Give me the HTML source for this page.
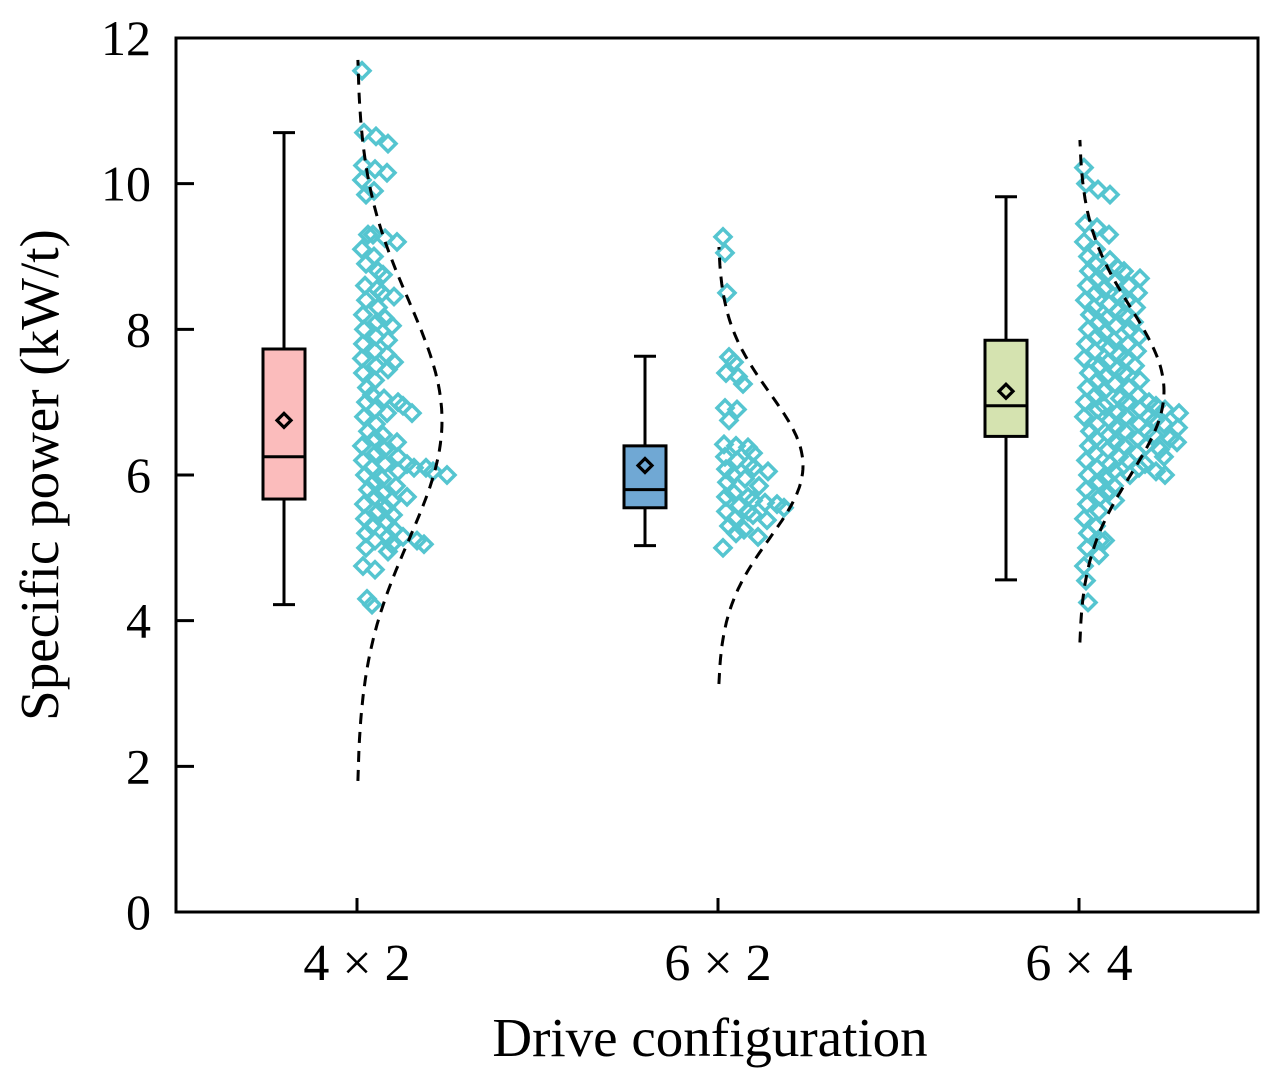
<!DOCTYPE html>
<html><head><meta charset="utf-8"><style>
body{margin:0;background:#fff}
svg text{font-family:"Liberation Serif",serif;fill:#000}
</style></head><body>
<svg id="chart" width="1280" height="1083" xmlns="http://www.w3.org/2000/svg"></svg>
<script>
const categories=["4 × 2","6 × 2","6 × 4"];
const yTicks=[0,2,4,6,8,10,12];
const whiskerLow=[4.22,5.03,4.56];
const whiskerHigh=[10.7,7.63,9.82];
const q1=[5.67,5.55,6.53];
const q3=[7.73,6.4,7.85];
const medians=[6.25,5.8,6.95];
const means=[6.75,6.13,7.15];
const sds=[1.65,1.0,1.15];
const boxColors=["#fbbcbc","#70a8d4","#d5e3b0"];
const pts4x2=[11.55,10.7,10.65,10.55,10.25,10.2,10.15,10.05,9.9,9.85,9.3,9.3,9.25,9.2,9.1,9.0,8.9,8.8,8.75,8.6,8.55,8.5,8.45,8.4,8.3,8.2,8.15,8.1,8.05,8.0,7.9,7.85,7.8,7.7,7.65,7.6,7.55,7.5,7.45,7.4,7.3,7.2,7.1,7.05,7.0,7.0,6.95,6.9,6.85,6.85,6.8,6.7,6.6,6.55,6.5,6.45,6.4,6.35,6.3,6.25,6.2,6.15,6.15,6.1,6.1,6.1,6.05,6.05,6.0,6.0,5.95,5.9,5.85,5.8,5.75,5.7,5.7,5.65,5.6,5.55,5.5,5.45,5.4,5.35,5.3,5.25,5.2,5.15,5.15,5.1,5.1,5.05,5.05,5.0,4.95,4.75,4.7,4.3,4.22];
const pts6x2=[9.27,9.05,8.5,7.62,7.55,7.4,7.35,7.25,6.92,6.9,6.75,6.42,6.4,6.38,6.3,6.25,6.2,6.15,6.1,6.08,6.05,6.0,5.95,5.9,5.85,5.75,5.7,5.7,5.65,5.62,5.6,5.58,5.55,5.5,5.5,5.45,5.4,5.38,5.3,5.25,5.2,5.15,5.0];
const pts6x4=[10.22,10.0,9.92,9.85,9.45,9.4,9.3,9.2,9.1,9.0,8.95,8.9,8.85,8.8,8.8,8.75,8.7,8.7,8.65,8.6,8.6,8.55,8.5,8.5,8.45,8.4,8.4,8.35,8.3,8.3,8.25,8.2,8.2,8.15,8.1,8.1,8.05,8.0,8.0,7.95,7.9,7.9,7.85,7.8,7.8,7.75,7.7,7.7,7.65,7.6,7.6,7.55,7.5,7.5,7.45,7.4,7.4,7.35,7.3,7.3,7.25,7.2,7.2,7.15,7.1,7.1,7.05,7.0,7.0,7.0,6.95,6.95,6.9,6.9,6.9,6.85,6.85,6.8,6.8,6.8,6.75,6.75,6.7,6.7,6.7,6.65,6.65,6.6,6.6,6.6,6.55,6.55,6.5,6.5,6.5,6.45,6.45,6.4,6.4,6.4,6.35,6.35,6.3,6.3,6.25,6.25,6.2,6.2,6.15,6.15,6.1,6.1,6.05,6.05,6.0,6.0,6.0,5.95,5.9,5.85,5.8,5.75,5.7,5.65,5.6,5.5,5.4,5.3,5.2,5.1,5.1,5.0,4.9,4.75,4.55,4.25];
const seriesPts=[pts4x2,pts6x2,pts6x4];
const NS="http://www.w3.org/2000/svg";
const svg=document.getElementById('chart');
const L=176,R=1258,T=38,B=912;
const catX=[357,718,1079];
const yS=v=>B-(v/12)*(B-T);
function mk(tag,attrs,parent){const e=document.createElementNS(NS,tag);for(const k in attrs)e.setAttribute(k,attrs[k]);(parent||svg).appendChild(e);return e;}
const fr=mk('rect',{x:L,y:T,width:R-L,height:B-T,fill:'none',stroke:'#000','stroke-width':3});


yTicks.forEach(v=>{
 const t=mk('line',{x1:L,x2:L+18,y1:yS(v),y2:yS(v),stroke:'#000','stroke-width':3});
 
 
 const tx=mk('text',{x:151,y:yS(v)+17,'text-anchor':'end','font-size':50});
 tx.textContent=v;
 
 
});
categories.forEach((c,i)=>{
 const x=catX[i];
 const t=mk('line',{x1:x,x2:x,y1:B,y2:B-14,stroke:'#000','stroke-width':3});
 
 
 const tx=mk('text',{x:x,y:980,'text-anchor':'middle','font-size':52});
 tx.textContent=c;
 
 
 const g=mk('g',{});
 
 
 const bx=x-73, hw=21;
 mk('line',{x1:bx,x2:bx,y1:yS(whiskerLow[i]),y2:yS(whiskerHigh[i]),stroke:'#000','stroke-width':3},g);
 mk('line',{x1:bx-11,x2:bx+11,y1:yS(whiskerLow[i]),y2:yS(whiskerLow[i]),stroke:'#000','stroke-width':3},g);
 mk('line',{x1:bx-11,x2:bx+11,y1:yS(whiskerHigh[i]),y2:yS(whiskerHigh[i]),stroke:'#000','stroke-width':3},g);
 mk('rect',{x:bx-hw,y:yS(q3[i]),width:2*hw,height:yS(q1[i])-yS(q3[i]),fill:boxColors[i],stroke:'#000','stroke-width':3},g);
 mk('line',{x1:bx-hw,x2:bx+hw,y1:yS(medians[i]),y2:yS(medians[i]),stroke:'#000','stroke-width':3},g);
 const my=yS(means[i]);
 mk('polygon',{points:`${bx},${my-7} ${bx+7},${my} ${bx},${my+7} ${bx-7},${my}`,fill:'none',stroke:'#000','stroke-width':3.2},g);
 const pg=mk('g',{});
 
 
 const placed=[];
 const sorted=seriesPts[i].slice().sort((a,b)=>b-a);
 sorted.forEach((v,j)=>{
  const py=yS(v);
  let k=0;
  while(placed.some(p=>p.k===k&&Math.abs(p.y-py)<11))k++;
  placed.push({k:k,y:py});
  const px=x+8+k*10+((j*37)%7)-3;
  const d=mk('polygon',{points:`${px},${py-8} ${px+8},${py} ${px},${py+8} ${px-8},${py}`,fill:'none',stroke:'#55c5d0','stroke-width':3.5},pg);
  
  
 });
 let pts=[];
 for(let s=-3;s<=3.0001;s+=0.05){
  const v=means[i]+s*sds[i];
  pts.push((x+85*Math.exp(-s*s/2)).toFixed(1)+','+yS(v).toFixed(1));
 }
 const cv=mk('polyline',{points:pts.join(' '),fill:'none',stroke:'#000','stroke-width':3,'stroke-dasharray':'11,8'});
 
 
});
const xt=mk('text',{x:710,y:1056,'text-anchor':'middle','font-size':55});
xt.textContent='Drive configuration';


const yt=mk('text',{x:0,y:0,'text-anchor':'middle','font-size':55,transform:'translate(58,475) rotate(-90)'});
yt.textContent='Specific power (kW/t)';


</script>
</body></html>
